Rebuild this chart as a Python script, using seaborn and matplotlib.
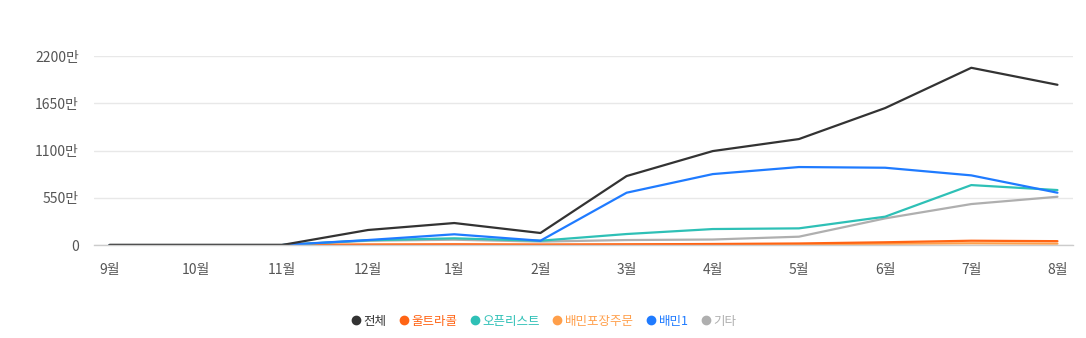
import matplotlib
matplotlib.use("Agg")
import matplotlib.pyplot as plt
from matplotlib.lines import Line2D
import seaborn as sns
import pandas as pd

months = ["9월", "10월", "11월", "12월", "1월", "2월", "3월", "4월", "5월", "6월", "7월", "8월"]
series_names = ["전체", "울트라콜", "오픈리스트", "배민포장주문", "배민1", "기타"]
total = [0, 0, 0, 175, 256, 140, 803, 1094, 1234, 1595, 2064, 1866]
ultracall = [0, 0, 0, 5, 8, 5, 8, 12, 18, 32, 50, 45]
openlist = [0, 0, 0, 55, 78, 50, 128, 186, 194, 330, 698, 640]
pickup = [0, 0, 0, 3, 4, 3, 5, 7, 10, 15, 20, 16]
baemin1 = [0, 0, 0, 58, 125, 50, 609, 826, 908, 900, 811, 609]
etc = [0, 0, 0, 50, 62, 40, 58, 64, 97, 310, 477, 562]
y_ticks = [0, 550, 1100, 1650, 2200]
colors = ["#333333", "#FF6414", "#2EC0B6", "#FF9F4A", "#1F7BFF", "#AFAFAF"]

values = [total, ultracall, openlist, pickup, baemin1, etc]
rows = []
for name, vals in zip(series_names, values):
    for i, v in enumerate(vals):
        rows.append({"month": i, "value": v, "series": name})
df = pd.DataFrame(rows)

sns.set_theme(style="white")
plt.rcParams["font.family"] = ["Noto Sans CJK KR", "DejaVu Sans"]

fig = plt.figure(figsize=(10.86, 3.38), dpi=100)
ax = fig.add_axes([0.0866, 0.2751, 0.9014, 0.5589])

draw_order = ["기타", "배민포장주문", "울트라콜", "오픈리스트", "배민1", "전체"]
palette = dict(zip(series_names, colors))
for name in draw_order:
    sns.lineplot(data=df[df["series"] == name], x="month", y="value",
                 color=palette[name], linewidth=1.6, ax=ax, legend=False)

ax.set_xlim(-0.18, 11.18)
ax.set_ylim(0, 2200)
ax.set_yticks(y_ticks)
ax.set_yticklabels(["0" if t == 0 else f"{t}만" for t in y_ticks])
ax.set_xticks(range(len(months)))
ax.set_xticklabels(months)
ax.tick_params(axis="both", length=0, colors="#555555", labelsize=10)
ax.tick_params(axis="y", pad=11)
ax.tick_params(axis="x", pad=13)
ax.grid(axis="y", color="#E8E8E8", linewidth=1)
ax.set_axisbelow(True)
for s in ["top", "right", "left"]:
    ax.spines[s].set_visible(False)
ax.spines["bottom"].set_color("#CCCCCC")
ax.spines["bottom"].set_linewidth(1)
ax.set_xlabel("")
ax.set_ylabel("")

handles = [Line2D([0], [0], marker="o", linestyle="", markersize=6,
                  markerfacecolor=c, markeredgecolor=c) for c in colors]
leg = fig.legend(handles, series_names, loc="center", bbox_to_anchor=(0.5, 0.05),
                 ncol=6, frameon=False, fontsize=9, handletextpad=0.1,
                 columnspacing=0.9, handlelength=1.0)
for txt, c in zip(leg.get_texts(), colors):
    txt.set_color(c)

fig.savefig("out.png", dpi=100)
